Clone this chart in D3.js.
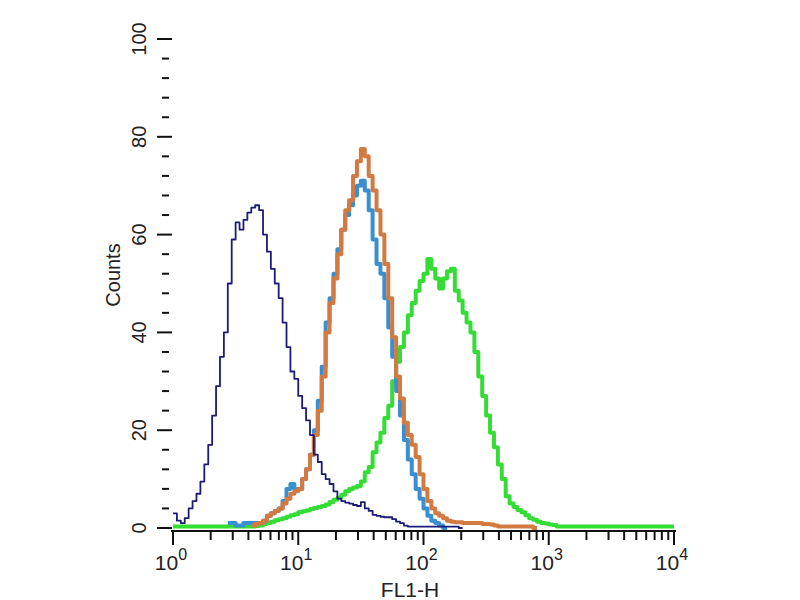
<!DOCTYPE html>
<html>
<head>
<meta charset="utf-8">
<script src="https://cdn.jsdelivr.net/npm/d3@7"></script>
<style>
  body { margin: 0; background: #fff; }
  text { font-family: "Liberation Sans", Arial, sans-serif; fill: #222; }
</style>
</head>
<body>
<div id="chart"></div>
<script>
// histogram bins: 8 channels each, 1024 channels over 4 decades
const binWidth = 8;
const channelMax = 1024;

// counts per bin, starting at the given bin index
const navyStart = 0;
const navyCounts = [3, 1.5, 1, 2, 4, 5.5, 7, 9.5, 13, 17, 23, 29, 35, 40, 50, 59, 62.5, 61, 63, 64.5,
  65.5, 66, 65, 60, 56.5, 53, 50, 47, 42, 37, 32, 30.5, 27, 24.5, 22, 19, 15, 13.5, 11, 10,
  9, 7.5, 6, 5.5, 5.2, 5, 4.7, 4.5, 5.3, 4, 3.5, 2.7, 2.5, 2.3, 2.2, 2.2, 1.8, 1.3, 1, 0.5,
  0.3, 0.3, 0.3, 0.3, 0.3, 0.3, 0.3, 0.3, 0.3, 0.3, 0.3, 0.3, 0.3, 0];

const blueStart = 14;
const blueCounts = [1, 1, 0.5, 0.5, 1, 1, 1, 1, 1, 1.5, 2.5, 3, 3.5, 4, 5.5, 8, 9, 8, 8, 10,
  12, 15, 20, 26, 33, 42, 47, 52, 57, 61, 64, 66, 68, 70, 71, 69, 65, 59, 54, 52,
  47, 41, 35, 28, 23, 18, 14, 11, 8, 6, 4, 2.5, 1.5, 1, 0.5, 0];

const orangeStart = 20;
const orangeCounts = [0.5, 0.8, 1, 1.5, 2.5, 3, 3.5, 4, 5, 6, 7, 7.5, 8, 10, 12, 15, 19, 24, 31, 40,
  46, 51, 56, 61, 65, 67, 72, 75, 77.5, 76, 72, 69, 65, 60, 54, 47, 39, 31, 26.5, 21.5,
  19, 17, 14.5, 11, 8, 5.5, 4, 3, 2.5, 2, 1.5, 1.3, 1.2, 1.2, 1, 1, 1, 1, 1, 0.8,
  0.8, 0.7, 0.5, 0.3, 0.3, 0.3, 0.3, 0.3, 0.3, 0.3, 0.3, 0.3, 0];

const greenStart = 0;
const greenCounts = [0.3, 0.3, 0.3, 0.3, 0.3, 0.3, 0.3, 0.3, 0.3, 0.3, 0.3, 0.3, 0.3, 0.3, 0.3, 0.3, 0.3, 0.3, 0.3, 0.3,
  0.3, 0.4, 0.5, 0.8, 1, 1.3, 1.6, 1.8, 2, 2.3, 2.6, 2.8, 3.2, 3.4, 3.6, 3.9, 4.1, 4.3, 4.5, 4.8,
  5.3, 5.8, 6.2, 6.8, 7.5, 8, 8.3, 8.6, 9.5, 11.4, 12.5, 15.5, 17.5, 19.5, 22.5, 25, 30, 34, 37, 40,
  43.5, 46, 48.5, 50.5, 52, 55, 53, 51, 49, 51, 52.5, 53, 48.5, 46.5, 44, 42, 40, 36, 31, 27,
  23, 19.5, 16.5, 13, 10, 6.5, 5, 4.3, 3.7, 3.2, 2.6, 2, 1.7, 1.3, 1, 0.9, 0.7, 0.6, 0.3, 0.3,
  0.3, 0.3, 0.3, 0.3, 0.3, 0.3, 0.3, 0.3, 0.3, 0.3, 0.3, 0.3, 0.3, 0.3, 0.3, 0.3, 0.3, 0.3, 0.3, 0.3,
  0.3, 0.3, 0.3, 0.3, 0.3, 0.3, 0.3, 0.3];

const yTicks = [0, 20, 40, 60, 80, 100];
const xDecades = [1, 10, 100, 1000, 10000];
const xExponents = ["0", "1", "2", "3", "4"];

const width = 800, height = 600;
const svg = d3.select("#chart").append("svg")
  .attr("width", width).attr("height", height);

const xLeft = 173, xRight = 674, yBase = 528, yTop = 39;

const xScale = d3.scaleLog().domain([1, 10000]).range([xLeft, xRight]);
const chScale = d3.scaleLinear().domain([0, channelMax]).range([xLeft, xRight]);
const yScale = d3.scaleLinear().domain([0, 100]).range([yBase, yTop]);

// y ticks: every 4 counts, longer at multiples of 20
const yAll = d3.range(0, 101, 4);
svg.append("g").selectAll("line")
  .data(yAll)
  .join("line")
  .attr("x1", d => d % 20 === 0 ? 157 : 162)
  .attr("x2", d => d % 20 === 0 ? 172 : 169)
  .attr("y1", d => yScale(d))
  .attr("y2", d => yScale(d))
  .attr("stroke", "#111")
  .attr("stroke-width", 2);

svg.append("g").selectAll("text")
  .data(yTicks)
  .join("text")
  .attr("transform", d => `translate(146,${yScale(d)}) rotate(-90)`)
  .attr("text-anchor", "middle")
  .attr("font-size", 20)
  .text(d => d);

// x axis line + log ticks
svg.append("line")
  .attr("x1", xLeft - 2).attr("x2", xRight + 2)
  .attr("y1", 531).attr("y2", 531)
  .attr("stroke", "#111").attr("stroke-width", 2);

const xMinor = [];
xDecades.slice(0, 4).forEach(d => {
  for (let k = 2; k <= 9; k++) xMinor.push(d * k);
});

svg.append("g").selectAll("line")
  .data(xDecades.concat(xMinor))
  .join("line")
  .attr("x1", d => xScale(d))
  .attr("x2", d => xScale(d))
  .attr("y1", 531)
  .attr("y2", d => xDecades.includes(d) ? 545 : 540)
  .attr("stroke", "#111")
  .attr("stroke-width", 2);

const xLabels = svg.append("g").selectAll("text")
  .data(xDecades)
  .join("text")
  .attr("x", d => xScale(d) - 2)
  .attr("y", 570)
  .attr("text-anchor", "middle")
  .attr("font-size", 21);
xLabels.append("tspan").text("10");
xLabels.append("tspan")
  .attr("dy", -10)
  .attr("font-size", 16)
  .text((d, i) => xExponents[i]);

svg.append("text")
  .attr("x", 410).attr("y", 597)
  .attr("text-anchor", "middle")
  .attr("font-size", 21)
  .text("FL1-H");

svg.append("text")
  .attr("transform", "translate(120,275) rotate(-90)")
  .attr("text-anchor", "middle")
  .attr("font-size", 20)
  .text("Counts");

// histograms as step lines
const line = d3.line()
  .x(d => chScale(d[0]))
  .y(d => yScale(d[1]))
  .curve(d3.curveStepAfter);

function toPoints(start, counts) {
  const pts = counts.map((c, i) => [(start + i) * binWidth, c]);
  pts.push([(start + counts.length) * binWidth, counts[counts.length - 1]]);
  return pts;
}

const series = [
  {name: "green", start: greenStart, counts: greenCounts, color: "#35dc35", w: 4},
  {name: "blue", start: blueStart, counts: blueCounts, color: "#3a8fd0", w: 4},
  {name: "orange", start: orangeStart, counts: orangeCounts, color: "#d27a42", w: 4},
  {name: "navy", start: navyStart, counts: navyCounts, color: "#1c1c78", w: 1.8}
];

svg.append("g").selectAll("path")
  .data(series)
  .join("path")
  .attr("d", s => line(toPoints(s.start, s.counts)))
  .attr("fill", "none")
  .attr("stroke", s => s.color)
  .attr("stroke-width", s => s.w)
  .attr("stroke-linejoin", "round");
</script>
</body>
</html>
